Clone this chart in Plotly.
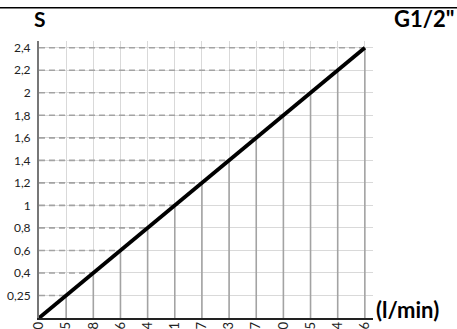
import plotly.graph_objects as go

# flow labels along x (partly cut off at the bottom edge in the original)
flow_labels = ["0", "12,5", "18", "26", "34", "41", "47", "53", "57", "60", "62,5", "64", "66"]
# S values along y, evenly spaced steps
s_labels = ["0", "0,25", "0,4", "0,6", "0,8", "1", "1,2", "1,4", "1,6", "1,8", "2", "2,2", "2,4"]

fig = go.Figure()

# reference lines from the axes to each point on the curve
for f, s in zip(flow_labels[1:], s_labels[1:]):
    fig.add_trace(go.Scatter(
        x=[flow_labels[0], f], y=[s, s], mode="lines",
        line=dict(color="#a3a3a3", width=1.6, dash="6px,4px"),
        hoverinfo="skip", showlegend=False
    ))
    fig.add_trace(go.Scatter(
        x=[f, f], y=[s_labels[0], s], mode="lines",
        line=dict(color="#a3a3a3", width=1.6),
        hoverinfo="skip", showlegend=False
    ))

# the curve itself
fig.add_trace(go.Scatter(
    x=flow_labels, y=s_labels, mode="lines",
    line=dict(color="black", width=3.8),
    showlegend=False
))

fig.update_layout(
    width=457, height=329,
    margin=dict(l=39, r=84, t=41, b=11, autoexpand=False),
    paper_bgcolor="white", plot_bgcolor="white",
    font=dict(family="Lato, DejaVu Sans, sans-serif", size=12, color="#222"),
    xaxis=dict(
        type="category", categoryorder="array", categoryarray=flow_labels,
        range=[0, 12.3], tickvals=flow_labels, ticktext=flow_labels,
        tickangle=-90, showgrid=True, gridcolor="#d9d9d9", gridwidth=1,
        showline=True, linecolor="#222", linewidth=1.5,
        zeroline=False, ticks="", ticklabelstandoff=-3, automargin=False,
        tickfont=dict(size=13),
    ),
    yaxis=dict(
        type="category", categoryorder="array", categoryarray=s_labels,
        range=[0, 12.3], tickvals=s_labels[1:], ticktext=s_labels[1:],
        showgrid=True, gridcolor="#d9d9d9", gridwidth=1,
        showline=True, linecolor="#777", linewidth=2,
        zeroline=False, ticks="", ticklabelstandoff=4, automargin=False,
        tickfont=dict(size=12),
    ),
    shapes=[dict(type="line", xref="paper", yref="paper", layer="above",
                 x0=-0.12, x1=1.26, y0=1.12, y1=1.12,
                 line=dict(color="black", width=1.5))],
    annotations=[
        dict(text="<b>S</b>", xref="paper", yref="paper", x=0.003, y=1.083,
             xanchor="center", yanchor="middle", showarrow=False,
             font=dict(family="Lato, sans-serif", size=21, color="black")),
        dict(text="<b>G1/2\"</b>", xref="paper", yref="paper", x=1.2485, y=1.083,
             xanchor="right", yanchor="middle", showarrow=False,
             font=dict(family="Lato, sans-serif", size=22, color="black")),
        dict(text="<b>(l/min)</b>", xref="paper", yref="paper", x=1.003, y=0.03,
             xanchor="left", yanchor="middle", showarrow=False,
             font=dict(family="Lato, sans-serif", size=22, color="black")),
    ],
)

fig.write_html("out.html", config={"displayModeBar": False},
               post_script="document.body.style.margin='0';")
